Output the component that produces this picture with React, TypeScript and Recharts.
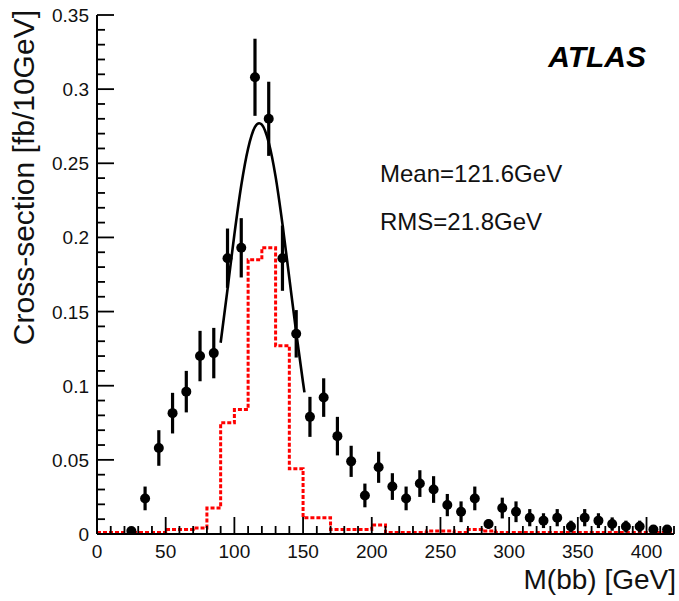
import React from "react";
import {
  ComposedChart,
  Line,
  Scatter,
  ErrorBar,
  XAxis,
  YAxis,
} from "recharts";

const FONT = "'Liberation Sans', Arial, sans-serif";
const INK = "#111";

// measured cross-section per 10 GeV bin (bin centres)
const binCentres = [
  25, 35, 45, 55, 65, 75, 85, 95, 105, 115, 125, 135, 145, 155, 165, 175, 185,
  195, 205, 215, 225, 235, 245, 255, 265, 275, 285, 295, 305, 315, 325, 335,
  345, 355, 365, 375, 385, 395, 405, 415,
];
const xsecValues = [
  0.002, 0.024, 0.058, 0.0815, 0.096, 0.12, 0.122, 0.186, 0.193, 0.308, 0.28,
  0.186, 0.135, 0.079, 0.092, 0.066, 0.049, 0.026, 0.045, 0.032, 0.024, 0.034,
  0.03, 0.0195, 0.015, 0.024, 0.0067, 0.0175, 0.015, 0.011, 0.009, 0.011, 0.005,
  0.011, 0.009, 0.0067, 0.005, 0.005, 0.003, 0.003,
];
const xsecErrors = [
  0.002, 0.008, 0.012, 0.0137, 0.014, 0.017, 0.017, 0.02, 0.02, 0.026, 0.025,
  0.022, 0.016, 0.0135, 0.013, 0.013, 0.0105, 0.008, 0.0105, 0.009, 0.008,
  0.009, 0.009, 0.0075, 0.007, 0.008, 0.003, 0.007, 0.007, 0.0058, 0.005,
  0.0058, 0.004, 0.0058, 0.005, 0.0045, 0.004, 0.004, 0.003, 0.003,
];

// red dashed histogram, one value per bin starting at each lower edge
const histEdges = [
  0, 10, 20, 30, 40, 50, 60, 70, 80, 90, 100, 110, 120, 130, 140, 150, 160,
  170, 180, 190, 200, 210, 220, 230, 240, 250, 260, 270, 280, 290, 300, 310,
  320, 330, 340, 350, 360, 370, 380, 390, 400, 410, 420,
];
const histValues = [
  0.001, 0.001, 0.001, 0.001, 0.001, 0.003, 0.003, 0.004, 0.0175, 0.075, 0.084,
  0.185, 0.193, 0.127, 0.044, 0.011, 0.011, 0.003, 0.003, 0.003, 0.006, 0.001,
  0.001, 0.001, 0.002, 0.002, 0.001, 0.003, 0.002, 0.001, 0.001, 0.001, 0.001,
  0.001, 0.001, 0.001, 0.001, 0.001, 0.001, 0.001, 0.001, 0.001, 0.001,
];

// gaussian fit line around the peak
const fitX = [90, 95, 100, 105, 110, 115, 118, 120, 125, 130, 135, 140, 145, 150, 151];
const fitY = [
  0.129, 0.165, 0.202, 0.235, 0.26, 0.2745, 0.277, 0.276, 0.264, 0.241, 0.209,
  0.1725, 0.136, 0.102, 0.0955,
];

const xMajorTicks = [0, 50, 100, 150, 200, 250, 300, 350, 400];
const yMajorTicks = [0, 0.05, 0.1, 0.15, 0.2, 0.25, 0.3, 0.35];
const xAllTicks = Array.from({ length: 43 }, (_, i) => i * 10);
const yAllTicks = Array.from({ length: 36 }, (_, i) => i / 100);

const points = binCentres.map((x, i) => ({ x, y: xsecValues[i], err: xsecErrors[i] }));
const histData = histEdges.map((x, i) => ({ x, y: histValues[i] }));
const fitData = fitX.map((x, i) => ({ x, y: fitY[i] }));

const isXMajor = (v: number) => xMajorTicks.includes(v);
const isYMajor = (v: number) => yMajorTicks.some((t) => Math.abs(t - v) < 1e-6);

const MAJOR = 17;
const MINOR = 8;

const BottomTick = ({ x, y, payload }: any) => {
  const major = isXMajor(payload.value);
  return (
    <g>
      <line x1={x} x2={x} y1={y} y2={y - (major ? MAJOR : MINOR)} stroke="#000" strokeWidth={1.8} />
      {major && (
        <text x={x} y={y + 24} textAnchor="middle" fontFamily={FONT} fontSize={19} fill={INK}>
          {payload.value}
        </text>
      )}
    </g>
  );
};

const TopTick = ({ x, y, payload }: any) => {
  const major = isXMajor(payload.value);
  return <line x1={x} x2={x} y1={y} y2={y + (major ? MAJOR : MINOR)} stroke="#000" strokeWidth={1.8} />;
};

const LeftTick = ({ x, y, payload }: any) => {
  const major = isYMajor(payload.value);
  return (
    <g>
      <line x1={x} x2={x + (major ? MAJOR : MINOR)} y1={y} y2={y} stroke="#000" strokeWidth={1.8} />
      {major && (
        <text x={x - 8} y={y + 7} textAnchor="end" fontFamily={FONT} fontSize={19} fill={INK}>
          {String(payload.value)}
        </text>
      )}
    </g>
  );
};

const RightTick = ({ x, y, payload }: any) => {
  const major = isYMajor(payload.value);
  return <line x1={x} x2={x - (major ? MAJOR : MINOR)} y1={y} y2={y} stroke="#000" strokeWidth={1.8} />;
};

const Dot = ({ cx, cy }: any) => <circle cx={cx} cy={cy} r={5} fill="#000" />;

export default function App() {
  return (
    <div style={{ position: "absolute", left: 0, top: 0, width: 679, height: 601, background: "#fff" }}>
      <ComposedChart width={679} height={601} margin={{ top: 15, right: 5, bottom: 0, left: 0 }}>
        <XAxis
          dataKey="x"
          type="number"
          domain={[0, 420]}
          ticks={xAllTicks}
          interval={0}
          tickSize={0}
          tickMargin={0}
          tick={<BottomTick />}
          height={67}
          axisLine={{ stroke: "#000", strokeWidth: 2 }}
          allowDataOverflow
        />
        <XAxis
          xAxisId="top"
          orientation="top"
          type="number"
          domain={[0, 420]}
          ticks={xAllTicks}
          interval={0}
          tickSize={0}
          tickMargin={0}
          tick={<TopTick />}
          height={0}
          axisLine={{ stroke: "#000", strokeWidth: 2 }}
          allowDataOverflow
        />
        <YAxis
          type="number"
          domain={[0, 0.35]}
          ticks={yAllTicks}
          interval={0}
          tickSize={0}
          tickMargin={0}
          tick={<LeftTick />}
          width={97}
          axisLine={{ stroke: "#000", strokeWidth: 2 }}
          allowDataOverflow
        />
        <YAxis
          yAxisId="right"
          orientation="right"
          type="number"
          domain={[0, 0.35]}
          ticks={yAllTicks}
          interval={0}
          tickSize={0}
          tickMargin={0}
          tick={<RightTick />}
          width={0}
          axisLine={{ stroke: "#000", strokeWidth: 2 }}
          allowDataOverflow
        />
        <Line
          data={histData}
          dataKey="y"
          type="stepAfter"
          stroke="#ff0000"
          strokeWidth={3}
          strokeDasharray="4 2"
          dot={false}
          isAnimationActive={false}
        />
        <Line
          data={fitData}
          dataKey="y"
          type="monotone"
          stroke="#000"
          strokeWidth={2.6}
          dot={false}
          isAnimationActive={false}
        />
        <Scatter data={points} dataKey="y" shape={<Dot />} isAnimationActive={false}>
          <ErrorBar dataKey="err" direction="y" width={0} stroke="#000" strokeWidth={3.2} isAnimationActive={false} />
        </Scatter>
      </ComposedChart>
      <svg
        width={679}
        height={601}
        style={{ position: "absolute", left: 0, top: 0, pointerEvents: "none" }}
        fontFamily={FONT}
        fill={INK}
      >
        <text x={34} y={10} transform="rotate(-90 34 10)" textAnchor="end" fontSize={30}>
          Cross-section [fb/10GeV]
        </text>
        <text x={676} y={589} textAnchor="end" fontSize={28}>
          M(bb) [GeV]
        </text>
        <text x={646} y={67} textAnchor="end" fontSize={30} fontWeight="bold" fontStyle="italic" fill="#000">
          ATLAS
        </text>
        <text x={380} y={182} fontSize={24}>
          Mean=121.6GeV
        </text>
        <text x={380} y={230} fontSize={24}>
          RMS=21.8GeV
        </text>
      </svg>
    </div>
  );
}
